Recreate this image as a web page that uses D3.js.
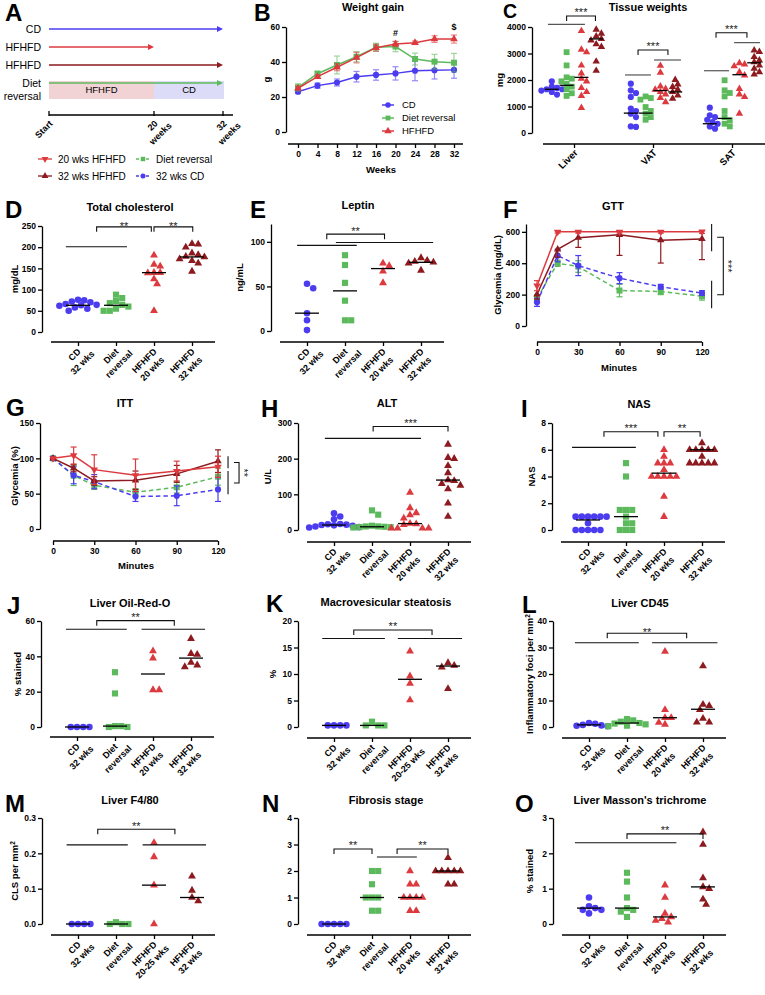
<!DOCTYPE html>
<html><head><meta charset="utf-8">
<script src="https://cdn.jsdelivr.net/npm/d3@7"></script>
<style>body{margin:0;background:#fff}</style>
</head><body>
<script>
// ---------------- DATA ----------------
// Panel A
const timelineRows = ["CD", "HFHFD", "HFHFD", "Diet reversal"];
const timelineEnd = [32, 20, 32, 32];
const timelineTicks = [0, 20, 32];
const timelineTickLabels = [["Start"], ["20", "weeks"], ["32", "weeks"]];
const reversalPhaseLabels = ["HFHFD", "CD"];
const reversalPhaseFrom = [0, 20];
const reversalPhaseTo = [20, 32];
const legendLabels = ["20 wks HFHFD", "Diet reversal", "32 wks HFHFD", "32 wks CD"];

// Panel B weight gain
const weeks = [0, 4, 8, 12, 16, 20, 24, 28, 32];
const wgCD = [23, 26.5, 28.3, 31.6, 32.6, 33.5, 35, 35.3, 35.5];
const wgCDerr = [1, 1.5, 2, 3, 3, 3.8, 5.7, 5, 4.8];
const wgDR = [25.5, 33.3, 38.3, 43, 48.4, 48.8, 41.7, 40.2, 39.6];
const wgDRerr = [2.1, 1.5, 5.1, 2.9, 2.3, 2.9, 3.4, 4.2, 5.3];
const wgHF = [25, 31.6, 37, 42.5, 48.2, 50.3, 51, 53.1, 53.1];
const wgHFerr = [1, 1, 2, 3, 2, 1.5, 1, 1.9, 2.3];
const wgLegend = ["CD", "Diet reversal", "HFHFD"];

// Panel C tissue weights (mg)
const tissues = ["Liver", "VAT", "SAT"];
const tissueCD = [[1950, 1750, 1700, 1650, 1650, 1600, 1550, 1450],
                  [1860, 1610, 1510, 1360, 920, 830, 730, 600, 250, 230],
                  [956, 670, 600, 500, 415, 350, 250, 165]];
const tissueDR = [[3050, 2550, 2100, 2050, 1950, 1850, 1750, 1650, 1500, 1400],
                  [1380, 1320, 1260, 980, 830, 730, 600, 500],
                  [1990, 1610, 1510, 1380, 830, 600, 480, 350, 250]];
const tissueH20 = [[3850, 3150, 3050, 2550, 2250, 2050, 1950, 1700, 1550, 1400, 950],
                   [2540, 2280, 1760, 1670, 1640, 1550, 1460, 1330, 1170],
                   [2640, 2590, 2520, 2300, 2180, 1670, 1460, 1360, 730]];
const tissueH32 = [[3900, 3750, 3650, 3550, 3500, 3350, 3250, 2700, 2350],
                   [2010, 1840, 1740, 1640, 1550, 1420, 1300],
                   [3120, 3060, 2870, 2740, 2680, 2550, 2430, 2300, 2210]];
const tissueMedCD = [1650, 750, 350];
const tissueMedDR = [1800, 750, 550];
const tissueMedH20 = [2100, 1600, 2200];
const tissueMedH32 = [3550, 1550, 2650];

// Common categories
const catsA = [["CD", "32 wks"], ["Diet", "reversal"], ["HFHFD", "20 wks"], ["HFHFD", "32 wks"]];
const catsB = [["CD", "32 wks"], ["Diet", "reversal"], ["HFHFD", "20-25 wks"], ["HFHFD", "32 wks"]];

// D total cholesterol
const cholCD = [76, 75, 72, 70, 66, 64, 63, 62, 58, 55, 50];
const cholDR = [88, 80, 73, 68, 64, 60, 55, 50, 50];
const cholH20 = [181, 159, 155, 140, 140, 139, 125, 113, 50];
const cholH32 = [208, 207, 200, 186, 182, 178, 177, 172, 168, 162, 143];
const cholMed = [63, 63, 140, 177];

// E leptin
const lepCD = [53, 48, 20, 12, 1];
const lepDR = [85, 74, 54, 34, 12, 12];
const lepH20 = [76, 73, 67, 54];
const lepH32 = [82, 79, 78, 77, 76, 68];
const lepMed = [20, 45, 70, 77];

// F GTT
const gttMin = [0, 15, 30, 60, 90, 120];
const gttH20 = [257, 600, 600, 600, 600, 600];
const gttH20err = [32, 8, 8, 8, 8, 10];
const gttH32 = [202, 489, 563, 581, 547, 555];
const gttH32err = [30, 50, 62, 131, 146, 132];
const gttCD = [151, 449, 385, 305, 250, 210];
const gttCDerr = [26, 40, 64, 35, 15, 15];
const gttDR = [177, 400, 379, 226, 220, 190];
const gttDRerr = [21, 20, 37, 40, 20, 25];

// G ITT
const ittH20 = [100, 104, 84, 76, 82, 88];
const ittH20err = [0, 12, 21, 23, 14, 15];
const ittH32 = [100, 86, 68, 69, 78, 96];
const ittH32err = [0, 5, 6, 13, 12, 16];
const ittCD = [100, 76, 67, 46, 47, 56];
const ittCDerr = [0, 12, 10, 7, 14, 17];
const ittDR = [100, 75.5, 62, 52, 59, 74];
const ittDRerr = [0, 14, 6, 5, 8, 12];

// H ALT
const altCD = [47, 38, 30, 17, 16, 15, 14, 13, 12, 10, 8, 7];
const altDR = [55, 43, 12, 10, 10, 9, 8, 8, 7];
const altH20 = [105, 62, 48, 42, 33, 18, 17, 15, 5, 5, 5, 5];
const altH32 = [240, 203, 200, 180, 160, 140, 138, 130, 125, 115, 75, 38];
const altMed = [14, 9, 18, 140];

// I NAS
const nasCD = [1, 1, 1, 1, 1, 1, 0.5, 0, 0, 0, 0, 0];
const nasDR = [5, 4, 1.5, 1.5, 1.5, 1, 0.5, 0.5, 0, 0, 0];
const nasH20 = [6, 5.5, 5, 5, 5, 4.5, 4, 4, 4, 4, 4, 2.5, 1];
const nasH32 = [6.5, 6, 6, 6, 6, 6, 5.5, 5, 5, 5, 5, 5];
const nasMed = [0.75, 1, 4.25, 6];

// J Oil-Red-O
const oroCD = [0, 0, 0, 0];
const oroDR = [31, 19, 0.5, 0, 0, 0.5];
const oroH20 = [43, 39, 21, 21];
const oroH32 = [50, 41.5, 41, 36.5, 35, 34];
const oroMed = [0, 0.5, 30, 39];

// K macrovesicular steatosis
const macCD = [0.3, 0.3, 0.3, 0.3];
const macDR = [1.0, 0.3, 0.3, 0.3];
const macH20 = [14.3, 9.6, 8.2, 5.1];
const macH32 = [12.1, 11.6, 11.3, 7.2];
const macMed = [0.3, 0.3, 9.0, 11.5];

// L CD45
const cd45CD = [1.5, 1.2, 0.8, 0.6, 0.5, 0.3];
const cd45DR = [3.0, 2.5, 2.0, 1.5, 1.3, 1.0, 0.5, 0.3];
const cd45H20 = [28.5, 6.5, 3.5, 3.5, 1.7, 1.0];
const cd45H32 = [23, 8.5, 8, 6.5, 3.2, 1.8, 1.8];
const cd45Med = [0.8, 1.5, 3.5, 6.7];

// M F4/80
const f480CD = [0, 0, 0, 0];
const f480DR = [0, 0, 0, 0.005];
const f480H20 = [0.23, 0.19, 0.11, 0.0];
const f480H32 = [0.135, 0.095, 0.075, 0.065];
const f480Med = [0, 0, 0.11, 0.075];

// N fibrosis
const fibCD = [0, 0, 0, 0, 0];
const fibDR = [2, 2, 1.5, 1, 1, 1, 0.5, 0.5];
const fibH20 = [2, 1.5, 1.5, 1, 1, 1, 1, 0.5, 0.5];
const fibH32 = [2.5, 2, 2, 2, 2, 2, 1.5, 1.5];
const fibMed = [0, 1, 1, 2];

// O Masson's trichrome
const masCD = [0.75, 0.5, 0.45, 0.4, 0.4, 0.3];
const masDR = [1.45, 1.2, 0.75, 0.45, 0.4, 0.35, 0.2];
const masH20 = [1.1, 0.75, 0.3, 0.2, 0.15, 0.1, 0.05];
const masH32 = [2.6, 2.25, 1.3, 1.05, 1.0, 0.7, 0.55];
const masMed = [0.45, 0.45, 0.2, 1.05];

// ---------------- STYLE ----------------
const FONT = "'Liberation Sans', Arial, Helvetica, sans-serif";
const BLUE = "#4b3cf0", GREEN = "#5cba5c", RED = "#dc3a3f", DRED = "#8c1a1e";
const colors = [BLUE, GREEN, RED, DRED];
const shapes = ["circle", "square", "triUp", "triUp"];

const svg = d3.select("body").append("svg").attr("width", 765).attr("height", 995)
  .style("background", "#fff");

function sym(shape, size) {
  const t = {circle: d3.symbolCircle, square: d3.symbolSquare, triUp: d3.symbolTriangle, triDown: d3.symbolTriangle}[shape];
  return d3.symbol().type(t).size(size)();
}
function marker(g, shape, x, y, color, size) {
  const s = size || {circle: 34, square: 38, triUp: 27, triDown: 27}[shape];
  g.append("path").attr("d", sym(shape, s))
    .attr("transform", `translate(${x},${y})` + (shape === "triDown" ? " rotate(180)" : ""))
    .attr("fill", color);
}
function txt(g, x, y, s, o = {}) {
  const t = g.append("text").attr("x", x).attr("y", y).text(s)
    .attr("font-family", FONT).attr("font-size", o.size || 9)
    .attr("font-weight", o.weight || "bold").attr("fill", o.fill || "#000")
    .attr("text-anchor", o.anchor || "middle");
  if (o.dy) t.attr("dy", o.dy);
  return t;
}
function yLab(g, x, yc, s, size) {
  return g.append("text").attr("transform", `translate(${x},${yc}) rotate(-90)`)
    .attr("text-anchor", "middle").attr("dy", "0.35em")
    .attr("font-family", FONT).attr("font-size", size || 9.5).attr("font-weight", "bold").text(s);
}
function styleAxis(a, fs) {
  a.attr("font-family", null).attr("font-size", null);
  a.selectAll("path.domain").attr("stroke", "#000").attr("stroke-width", 1.3);
  a.selectAll(".tick line").attr("stroke", "#000").attr("stroke-width", 1.3);
  a.selectAll(".tick text").attr("font-family", FONT).attr("font-size", fs || 8.5)
    .attr("font-weight", "bold").attr("fill", "#000");
}
function rotLabel(g, x, y, lines, fs, weight) {
  const gg = g.append("g").attr("transform", `translate(${x},${y}) rotate(-45)`);
  const t1 = gg.append("text").text(lines[0]).attr("font-family", FONT).attr("font-size", fs)
    .attr("font-weight", weight || "bold").attr("text-anchor", "end").attr("dy", "0.35em");
  if (lines.length > 1) {
    const L1 = t1.node().getComputedTextLength();
    gg.append("text").text(lines[1]).attr("font-family", FONT).attr("font-size", fs)
      .attr("font-weight", weight || "bold").attr("text-anchor", "middle")
      .attr("x", -L1 / 2).attr("y", fs * 1.25).attr("dy", "0.35em");
  }
}
function letter(x, y, s, size) { txt(svg, x, y, s, {size: size || 24, anchor: "start"}); }
function sigBar(g, x0, x1, y) {
  g.append("line").attr("x1", x0).attr("x2", x1).attr("y1", y).attr("y2", y)
    .attr("stroke", "#111").attr("stroke-width", 1.1);
}
function sigBracket(g, x0, x1, y, label, drop, off) {
  g.append("path").attr("d", `M${x0},${y + drop}V${y}H${x1}V${y + drop}`)
    .attr("fill", "none").attr("stroke", "#111").attr("stroke-width", 1.1);
  g.append("text").attr("x", (x0 + x1) / 2).attr("y", y - off + 6.4).text(label)
    .attr("font-family", FONT).attr("font-size", 11).attr("text-anchor", "middle").attr("fill", "#222");
}
function swarm(vals, y, cx, diam) {
  const order = d3.range(vals.length).sort((a, b) => vals[b] - vals[a]);
  const placed = [], out = new Array(vals.length);
  const offs = [0];
  for (let j = 1; j < 30; j++) offs.push(j * diam / 2, -j * diam / 2);
  for (const i of order) {
    const py = y(vals[i]);
    let px = cx;
    for (const o of offs) {
      if (placed.every(p => (p.x - (cx + o)) ** 2 + (p.y - py) ** 2 >= diam * diam * 0.92)) { px = cx + o; break; }
    }
    placed.push({x: px, y: py});
    out[i] = {x: px, y: py};
  }
  return out;
}

// ---------------- DOT PANELS ----------------
function dotPanel(p) {
  const g = svg.append("g");
  const y = d3.scaleLinear().domain(p.yDomain).range(p.yRange);
  const x = d3.scalePoint().domain(d3.range(p.cats.length)).range([p.ax + 36, p.ax + 150]);
  const ya = d3.axisLeft(y).tickValues(p.yTicks).tickSize(4).tickSizeOuter(0).tickPadding(2)
    .tickFormat(p.fmt || d3.format("d"));
  styleAxis(g.append("g").attr("transform", `translate(${p.ax},0)`).call(ya));
  const xg = g.append("g").attr("transform", `translate(0,${p.xAxisY})`)
    .call(d3.axisBottom(x).tickSize(4).tickSizeOuter(0).tickFormat(""));
  xg.select("path.domain").attr("d", `M${p.ax + 9},0H${p.ax + 173}`);
  styleAxis(xg);
  p.cats.forEach((c, i) => rotLabel(g, x(i) + 1, p.xAxisY + 8, c, 9));
  p.groups.forEach((vals, gi) => {
    swarm(vals, y, x(gi), p.diam || 6.2).forEach(pt => marker(g, shapes[gi], pt.x, pt.y, colors[gi]));
  });
  p.groups.forEach((vals, gi) => {
    g.append("line").attr("x1", x(gi) - 12).attr("x2", x(gi) + 12)
      .attr("y1", y(p.medians[gi])).attr("y2", y(p.medians[gi]))
      .attr("stroke", "#000").attr("stroke-width", 1.3);
  });
  const xi = i => x(0) + i * x.step();
  (p.bars || []).forEach(b => sigBar(g, xi(b[0]), xi(b[1]), y(b[2])));
  (p.brackets || []).forEach(b => sigBracket(g, xi(b[0]), xi(b[1]), y(b[2]), b[3], 5, p.off || 6));
  txt(g, p.titleX, p.titleY, p.title, {size: 11});
  if (p.yLabel) {
    const t = yLab(g, p.yLabelX, (p.yRange[0] + p.yRange[1]) / 2, p.yLabel);
    if (p.sup) t.append("tspan").attr("baseline-shift", "super").attr("font-size", 6.5).text(p.sup);
  }
  letter(p.lx, p.ly, p.letter);
}

// ---------------- LINE PANELS ----------------
function linePanel(p) {
  const g = svg.append("g");
  const x = d3.scaleLinear().domain(p.xDomain).range(p.xRange);
  const y = d3.scaleLinear().domain(p.yDomain).range(p.yRange);
  styleAxis(g.append("g").attr("transform", `translate(${p.ax},0)`)
    .call(d3.axisLeft(y).tickValues(p.yTicks).tickSize(4).tickSizeOuter(0).tickPadding(2)));
  const xg = g.append("g").attr("transform", `translate(0,${p.xAxisY})`)
    .call(d3.axisBottom(x).tickValues(p.xTicks).tickSize(4).tickSizeOuter(0).tickPadding(3));
  xg.select("path.domain").attr("d", `M${p.xLine[0]},0H${p.xLine[1]}`);
  styleAxis(xg);
  p.series.forEach(s => {
    const eg = g.append("g").attr("stroke", s.color).attr("stroke-width", 1.2).attr("opacity", p.errOpacity || 1);
    s.vals.forEach((v, i) => {
      const e = s.errs[i];
      if (!e) return;
      const top = s.down ? v : v + e;
      const xx = x(p.xVals[i]);
      eg.append("line").attr("x1", xx).attr("x2", xx).attr("y1", y(v - e)).attr("y2", y(top));
      eg.append("line").attr("x1", xx - 3).attr("x2", xx + 3).attr("y1", y(v - e)).attr("y2", y(v - e));
      if (!s.down) eg.append("line").attr("x1", xx - 3).attr("x2", xx + 3).attr("y1", y(top)).attr("y2", y(top));
    });
    g.append("path").datum(s.vals)
      .attr("d", d3.line().x((d, i) => x(p.xVals[i])).y(d => y(d)))
      .attr("fill", "none").attr("stroke", s.color).attr("stroke-width", 1.5)
      .attr("stroke-dasharray", s.dash ? "4.5,3" : null);
    s.vals.forEach((v, i) => marker(g, s.shape, x(p.xVals[i]), y(v), s.color, s.size));
  });
  txt(g, p.titleX, p.titleY, p.title, {size: 11});
  txt(g, p.xLabelX, p.xLabelY, p.xLabel, {size: 9.5});
  yLab(g, p.yLabelX, (p.yRange[0] + p.yRange[1]) / 2, p.yLabel);
  letter(p.lx, p.ly, p.letter, p.lsize);
  return {g, x, y};
}

// ---------------- PANEL A ----------------
(function () {
  const g = svg.append("g");
  const tx = d3.scaleLinear().domain(timelineTicks).range([49, 154, 223]);
  const ry = d3.scalePoint().domain(d3.range(timelineRows.length)).range([29, 83]);
  const rowColors = [BLUE, RED, DRED, GREEN];
  reversalPhaseLabels.forEach((lab, i) => {
    const x0 = tx(reversalPhaseFrom[i]), x1 = tx(reversalPhaseTo[i]) + (i === 1 ? 1 : 0);
    g.append("rect").attr("x", x0).attr("y", ry(3) - 2).attr("width", x1 - x0).attr("height", 18)
      .attr("fill", i === 0 ? "#f2d3d5" : "#dcdcf8");
    txt(g, (x0 + x1) / 2, ry(3) + 7, lab, {size: 9.5, weight: "normal", dy: "0.35em"});
  });
  timelineRows.forEach((r, i) => {
    const yy = ry(i), xe = tx(timelineEnd[i]);
    g.append("line").attr("x1", tx(0)).attr("x2", xe - 4).attr("y1", yy).attr("y2", yy)
      .attr("stroke", rowColors[i]).attr("stroke-width", 1.5);
    g.append("path").attr("d", `M${xe},${yy}L${xe - 6},${yy - 3}L${xe - 6},${yy + 3}Z`).attr("fill", rowColors[i]);
    if (r === "Diet reversal") {
      txt(g, 41, yy, "Diet", {size: 10.5, weight: "normal", anchor: "end", dy: "0.35em"});
      txt(g, 41, yy + 13.5, "reversal", {size: 10.5, weight: "normal", anchor: "end", dy: "0.35em"});
    } else {
      txt(g, 41, yy, r, {size: 10.5, weight: "normal", anchor: "end", dy: "0.35em"});
    }
  });
  const ay = 115;
  g.append("line").attr("x1", tx(0)).attr("x2", tx(32) + 10).attr("y1", ay).attr("y2", ay)
    .attr("stroke", "#000").attr("stroke-width", 1.3);
  timelineTicks.forEach((t, i) => {
    g.append("line").attr("x1", tx(t)).attr("x2", tx(t)).attr("y1", ay - 4).attr("y2", ay + 1)
      .attr("stroke", "#000").attr("stroke-width", 1.3);
    rotLabel(g, tx(t) + 2, ay + 7, timelineTickLabels[i], 9);
  });
  const legColors = [RED, GREEN, DRED, BLUE];
  const legShapes = ["triDown", "square", "triUp", "circle"];
  const legDash = [false, true, false, true];
  legendLabels.forEach((lab, i) => {
    const col = i % 2, row = Math.floor(i / 2);
    const mx = col === 0 ? 45 : 143, yy = row === 0 ? 159 : 176;
    g.append("line").attr("x1", mx - 7).attr("x2", mx + 7).attr("y1", yy).attr("y2", yy)
      .attr("stroke", legColors[i]).attr("stroke-width", 1.3).attr("stroke-dasharray", legDash[i] ? "3,2" : null);
    marker(g, legShapes[i], mx, yy, legColors[i], 20);
    txt(g, mx + 13, yy, lab, {size: 10, weight: "normal", anchor: "start", dy: "0.35em"});
  });
  letter(5, 21, "A");
})();

// ---------------- PANEL B ----------------
(function () {
  const r = linePanel({
    ax: 286, xDomain: [0, 32], xRange: [298, 454], yDomain: [0, 60], yRange: [132, 27],
    yTicks: [0, 20, 40, 60], xTicks: weeks, xVals: weeks, xAxisY: 144, xLine: [288, 463],
    errOpacity: 0.6,
    series: [
      {vals: wgCD, errs: wgCDerr, color: BLUE, shape: "circle", size: 30},
      {vals: wgDR, errs: wgDRerr, color: GREEN, shape: "square", size: 36},
      {vals: wgHF, errs: wgHFerr, color: RED, shape: "triUp", size: 26}
    ],
    title: "Weight gain", titleX: 373, titleY: 11, xLabel: "Weeks", xLabelX: 381, xLabelY: 172.5,
    yLabel: "g", yLabelX: 267, letter: "B", lx: 254, ly: 21, lsize: 23
  });
  txt(r.g, r.x(20), r.y(56.6) + 3.5, "#", {size: 9});
  txt(r.g, r.x(32), r.y(60.2) + 3.5, "$", {size: 9});
  const ls = [BLUE, GREEN, RED], lsh = ["circle", "square", "triUp"], ly = [105, 118, 131];
  wgLegend.forEach((lab, i) => {
    r.g.append("line").attr("x1", 382).attr("x2", 394).attr("y1", ly[i]).attr("y2", ly[i])
      .attr("stroke", ls[i]).attr("stroke-width", 1.5);
    marker(r.g, lsh[i], 388, ly[i], ls[i], 24);
    txt(r.g, 402, ly[i], lab, {size: 9.5, weight: "normal", anchor: "start", dy: "0.35em"});
  });
})();

// ---------------- PANEL C ----------------
(function () {
  const g = svg.append("g");
  const y = d3.scaleLinear().domain([0, 4000]).range([133, 27]);
  const xc = d3.scalePoint().domain(tissues).range([574, 732]);
  const gstep = 14.8;
  const gx = (c, gi) => xc(tissues[c]) + (gi - 1.5) * gstep;
  styleAxis(g.append("g").attr("transform", "translate(532,0)")
    .call(d3.axisLeft(y).tickValues([0, 1000, 2000, 3000, 4000]).tickFormat(d3.format("d"))
      .tickSize(4).tickSizeOuter(0).tickPadding(2)));
  const xg = g.append("g").attr("transform", "translate(0,144)")
    .call(d3.axisBottom(xc).tickSize(4).tickSizeOuter(0).tickFormat(""));
  xg.select("path.domain").attr("d", "M543,0H765");
  styleAxis(xg);
  tissues.forEach(t => rotLabel(g, xc(t) + 2, 151, [t], 9.5));
  const grp = [tissueCD, tissueDR, tissueH20, tissueH32];
  const med = [tissueMedCD, tissueMedDR, tissueMedH20, tissueMedH32];
  tissues.forEach((t, c) => {
    grp.forEach((arr, gi) => {
      swarm(arr[c], y, gx(c, gi), 5.2).forEach(pt => marker(g, shapes[gi], pt.x, pt.y, colors[gi], gi === 0 ? 30 : (gi === 1 ? 34 : 24)));
    });
    grp.forEach((arr, gi) => {
      g.append("line").attr("x1", gx(c, gi) - 7).attr("x2", gx(c, gi) + 7)
        .attr("y1", y(med[gi][c])).attr("y2", y(med[gi][c])).attr("stroke", "#000").attr("stroke-width", 1.3);
    });
  });
  const cBars = [[0, -0.26, 2.24, 4100], [1, -0.39, 1.36, 2190], [1, 1.57, 3.39, 2755], [2, -0.39, 1.30, 2350], [2, 1.64, 3.39, 3410]];
  const cBrackets = [[0, 1.0, 2.95, 4415], [1, 0.49, 2.51, 3130], [2, 0.42, 2.51, 3785]];
  cBars.forEach(b => g.append("line").attr("x1", gx(b[0], b[1])).attr("x2", gx(b[0], b[2]))
    .attr("y1", y(b[3])).attr("y2", y(b[3])).attr("stroke", "#555").attr("stroke-width", 1.2));
  cBrackets.forEach(b => sigBracket(g, gx(b[0], b[1]), gx(b[0], b[2]), y(b[3]), "***", 5, 6));
  txt(g, 648, 11, "Tissue weights", {size: 11});
  yLab(g, 500, 80, "mg");
  letter(503, 17.7, "C", 19.5);
})();

// ---------------- PANEL D ----------------
dotPanel({ax: 42, yDomain: [0, 250], yRange: [332, 226], yTicks: [0, 50, 100, 150, 200, 250], xAxisY: 342,
  cats: catsA, groups: [cholCD, cholDR, cholH20, cholH32], medians: cholMed,
  bars: [[-0.32, 1.29, 201]], brackets: [[0.49, 1.93, 248, "**"], [2.0, 3.02, 248, "**"]], off: 3,
  title: "Total cholesterol", titleX: 130, titleY: 211, yLabel: "mg/dL", yLabelX: 15, letter: "D", lx: 5, ly: 218});

// ---------------- PANEL E ----------------
dotPanel({ax: 271, yDomain: [0, 120], yRange: [331, 224], yTicks: [0, 50, 100], xAxisY: 342,
  cats: catsA, groups: [lepCD, lepDR, lepH20, lepH32], medians: lepMed,
  bars: [[-0.26, 1.31, 96], [0.76, 3.32, 99.2]], brackets: [[0.52, 2.04, 108.6, "**"]],
  title: "Leptin", titleX: 358, titleY: 209, yLabel: "ng/mL", yLabelX: 240, letter: "E", lx: 250, ly: 218});

// ---------------- PANEL F ----------------
(function () {
  const r = linePanel({
    ax: 526, xDomain: [0, 120], xRange: [537, 702], yDomain: [0, 650], yRange: [326, 224],
    yTicks: [0, 200, 400, 600], xTicks: [0, 30, 60, 90, 120], xVals: gttMin, xAxisY: 342, xLine: [537, 702],
    series: [
      {vals: gttDR, errs: gttDRerr, color: GREEN, shape: "square", dash: true, size: 36},
      {vals: gttCD, errs: gttCDerr, color: BLUE, shape: "circle", dash: true, size: 30},
      {vals: gttH32, errs: gttH32err, color: DRED, shape: "triUp", size: 24, down: true},
      {vals: gttH20, errs: gttH20err, color: RED, shape: "triDown", size: 24}
    ],
    title: "GTT", titleX: 613, titleY: 210, xLabel: "Minutes", xLabelX: 619, xLabelY: 370.5,
    yLabel: "Glycemia (mg/dL)", yLabelX: 498, letter: "F", lx: 503, ly: 218
  });
  const g = r.g, x = r.x, y = r.y;
  [[650, 476], [288, 113]].forEach(s => g.append("line").attr("x1", x(127)).attr("x2", x(127))
    .attr("y1", y(s[0])).attr("y2", y(s[1])).attr("stroke", "#111").attr("stroke-width", 1.1));
  g.append("path").attr("d", `M${x(131)},${y(566)}H${x(135.5)}V${y(199)}H${x(131)}`)
    .attr("fill", "none").attr("stroke", "#111").attr("stroke-width", 1.1);
  g.append("text").attr("transform", `translate(${x(140) - 6},${y(382)}) rotate(90)`)
    .attr("text-anchor", "middle").attr("font-family", FONT).attr("font-size", 11).attr("fill", "#222").text("***");
})();

// ---------------- PANEL G ----------------
(function () {
  const r = linePanel({
    ax: 40, xDomain: [0, 120], xRange: [53, 218], yDomain: [0, 150], yRange: [529, 423],
    yTicks: [0, 50, 100, 150], xTicks: [0, 30, 60, 90, 120], xVals: gttMin, xAxisY: 541, xLine: [53, 218],
    series: [
      {vals: ittDR, errs: ittDRerr, color: GREEN, shape: "square", dash: true, size: 36},
      {vals: ittCD, errs: ittCDerr, color: BLUE, shape: "circle", dash: true, size: 30},
      {vals: ittH32, errs: ittH32err, color: DRED, shape: "triUp", size: 24},
      {vals: ittH20, errs: ittH20err, color: RED, shape: "triDown", size: 24}
    ],
    title: "ITT", titleX: 125, titleY: 407, xLabel: "Minutes", xLabelX: 136, xLabelY: 568.5,
    yLabel: "Glycemia (%)", yLabelX: 15, letter: "G", lx: 6, ly: 416
  });
  const g = r.g, x = r.x, y = r.y;
  [[103, 86], [82, 49]].forEach(s => g.append("line").attr("x1", x(127.3)).attr("x2", x(127.3))
    .attr("y1", y(s[0])).attr("y2", y(s[1])).attr("stroke", "#111").attr("stroke-width", 1.1));
  g.append("path").attr("d", `M${x(131.6)},${y(94)}H${x(135.3)}V${y(65)}H${x(131.6)}`)
    .attr("fill", "none").attr("stroke", "#111").attr("stroke-width", 1.1);
  g.append("text").attr("transform", `translate(${x(140.4) - 6},${y(79.5)}) rotate(90)`)
    .attr("text-anchor", "middle").attr("font-family", FONT).attr("font-size", 11).attr("fill", "#222").text("**");
})();

// ---------------- PANEL H ----------------
dotPanel({ax: 298, yDomain: [0, 300], yRange: [530, 423], yTicks: [0, 100, 200, 300], xAxisY: 542,
  cats: catsA, groups: [altCD, altDR, altH20, altH32], medians: altMed,
  bars: [[-0.24, 2.29, 257]], brackets: [[1.03, 3.0, 290, "***"]],
  title: "ALT", titleX: 387, titleY: 407, yLabel: "U/L", yLabelX: 268, letter: "H", lx: 261, ly: 417});

// ---------------- PANEL I ----------------
dotPanel({ax: 552, yDomain: [0, 8], yRange: [530, 423], yTicks: [0, 2, 4, 6, 8], xAxisY: 542,
  cats: catsA, groups: [nasCD, nasDR, nasH20, nasH32], medians: nasMed,
  bars: [[-0.42, 1.26, 6.18]], brackets: [[0.42, 1.84, 7.35, "***"], [2.0, 2.95, 7.35, "**"]],
  title: "NAS", titleX: 639, titleY: 408, yLabel: "NAS", yLabelX: 532, letter: "I", lx: 521, ly: 417});

// ---------------- PANEL J ----------------
dotPanel({ax: 41, yDomain: [0, 60], yRange: [727, 621], yTicks: [0, 20, 40, 60], xAxisY: 737,
  cats: catsA, groups: [oroCD, oroDR, oroH20, oroH32], medians: oroMed,
  bars: [[-0.29, 1.31, 55.3], [1.70, 3.37, 55.3]], brackets: [[0.52, 2.56, 60.2, "**"]],
  title: "Liver Oil-Red-O", titleX: 130, titleY: 607, yLabel: "% stained", yLabelX: 18, letter: "J", lx: 7, ly: 614});

// ---------------- PANEL K ----------------
dotPanel({ax: 298, yDomain: [0, 20], yRange: [727, 621], yTicks: [0, 5, 10, 15, 20], xAxisY: 738,
  cats: catsB, groups: [macCD, macDR, macH20, macH32], medians: macMed,
  bars: [[-0.31, 1.34, 16.7], [1.68, 3.37, 16.7]], brackets: [[0.52, 2.58, 18.3, "**"]],
  title: "Macrovesicular steatosis", titleX: 386, titleY: 606, yLabel: "%", yLabelX: 273, letter: "K", lx: 266, ly: 612});

// ---------------- PANEL L ----------------
dotPanel({ax: 553, yDomain: [0, 40], yRange: [727, 621], yTicks: [0, 10, 20, 30, 40], xAxisY: 738,
  cats: catsA, groups: [cd45CD, cd45DR, cd45H20, cd45H32], medians: cd45Med,
  bars: [[-0.37, 1.31, 31.8], [1.66, 3.38, 31.8]], brackets: [[0.48, 2.57, 35.4, "**"]], off: 4,
  title: "Liver CD45", titleX: 640, titleY: 607, yLabel: "Inflammatory foci per mm", sup: "2", yLabelX: 530,
  letter: "L", lx: 522, ly: 613});

// ---------------- PANEL M ----------------
dotPanel({ax: 42, yDomain: [0, 0.3], yRange: [924, 818], yTicks: [0, 0.1, 0.2, 0.3], fmt: d3.format(".1f"), xAxisY: 935,
  cats: catsB, groups: [f480CD, f480DR, f480H20, f480H32], medians: f480Med,
  bars: [[-0.3, 1.31, 0.224], [1.7, 3.37, 0.224]], brackets: [[0.52, 2.55, 0.268, "**"]],
  title: "Liver F4/80", titleX: 130, titleY: 804, yLabel: "CLS per mm", sup: "2", yLabelX: 15, letter: "M", lx: 5, ly: 812});

// ---------------- PANEL N ----------------
dotPanel({ax: 298, yDomain: [0, 4], yRange: [924, 818], yTicks: [0, 1, 2, 3, 4], xAxisY: 935,
  cats: catsA, groups: [fibCD, fibDR, fibH20, fibH32], medians: fibMed,
  bars: [[1.13, 2.18, 2.53]], brackets: [[0, 1.0, 2.83, "**"], [1.66, 3.0, 2.83, "**"]],
  title: "Fibrosis stage", titleX: 386, titleY: 804, letter: "N", lx: 262, ly: 812});

// ---------------- PANEL O ----------------
dotPanel({ax: 553, yDomain: [0, 3], yRange: [924, 818], yTicks: [0, 1, 2, 3], xAxisY: 935,
  cats: catsA, groups: [masCD, masDR, masH20, masH32], medians: masMed,
  bars: [[-0.37, 2.3, 2.3]], brackets: [[1.0, 3.0, 2.55, "**"]],
  title: "Liver Masson's trichrome", titleX: 640, titleY: 804, yLabel: "% stained", yLabelX: 530, letter: "O", lx: 515, ly: 812});
</script>
</body></html>
